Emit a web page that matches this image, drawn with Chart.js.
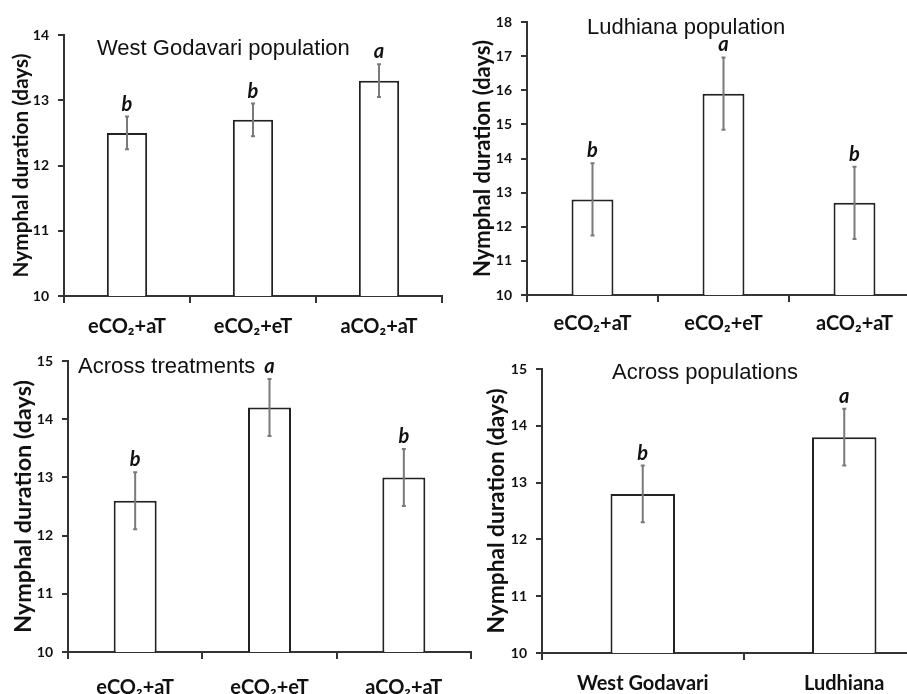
<!DOCTYPE html>
<html><head><meta charset="utf-8">
<script src="https://cdn.jsdelivr.net/npm/chart.js@4.4.1/dist/chart.umd.min.js"></script>
<style>
html,body{margin:0;padding:0;background:#fff;overflow:hidden;}
#wrap{position:relative;width:907px;height:694px;overflow:hidden;background:#fff;}
canvas{position:absolute;}
</style></head><body>
<div id="wrap">
<canvas id="c1" width="450" height="340" style="left:0;top:0"></canvas>
<canvas id="c2" width="470" height="340" style="left:450px;top:0"></canvas>
<canvas id="c3" width="480" height="354" style="left:0;top:340px"></canvas>
<canvas id="c4" width="495" height="354" style="left:450px;top:340px"></canvas>
</div>
<script>
// ---- data ----
const treatments = ['eCO\u2082+aT', 'eCO\u2082+eT', 'aCO\u2082+aT'];
const populations = ['West Godavari', 'Ludhiana'];

const westGodavariMeans = [12.5, 12.7, 13.3];
const westGodavariErrors = [0.25, 0.25, 0.25];
const westGodavariLetters = ['b', 'b', 'a'];

const ludhianaMeans = [12.8, 15.9, 12.7];
const ludhianaErrors = [1.06, 1.06, 1.06];
const ludhianaLetters = ['b', 'a', 'b'];

const acrossTreatmentMeans = [12.6, 14.2, 13.0];
const acrossTreatmentErrors = [0.49, 0.49, 0.49];
const acrossTreatmentLetters = ['b', 'a', 'b'];

const acrossPopulationMeans = [12.8, 13.8];
const acrossPopulationErrors = [0.5, 0.5];
const acrossPopulationLetters = ['b', 'a'];

const yMin = 10;
const yMaxWestGodavari = 14;
const yMaxLudhiana = 18;
const yMaxAcrossTreatments = 15;
const yMaxAcrossPopulations = 15;
const yStep = 1;

const yAxisTitle = 'Nymphal duration (days)';

// ---- helpers ----
const AX = '#333333';
const mctx = document.createElement('canvas').getContext('2d');
function fitSize(text, font, target) {
  mctx.font = font.replace('SIZE', '20px');
  return 20 * target / mctx.measureText(text).width;
}

const annot = {
  id: 'annot',
  afterDatasetsDraw(chart, args, o) {
    const ctx = chart.ctx;
    const meta = chart.getDatasetMeta(0);
    const ys = chart.scales.y;
    ctx.save();
    ctx.strokeStyle = '#7a7a7a';
    ctx.lineWidth = 2;
    o.means.forEach((v, i) => {
      const x = meta.data[i].x;
      const yt = ys.getPixelForValue(v + o.errors[i]);
      const yb = ys.getPixelForValue(v - o.errors[i]);
      ctx.beginPath();
      ctx.moveTo(x, yt); ctx.lineTo(x, yb);
      ctx.moveTo(x - 2, yt); ctx.lineTo(x + 2, yt);
      ctx.moveTo(x - 2, yb); ctx.lineTo(x + 2, yb);
      ctx.stroke();
      ctx.fillStyle = '#111';
      ctx.font = 'italic bold 20px Lato';
      ctx.textAlign = 'center';
      ctx.textBaseline = 'alphabetic';
      ctx.fillText(o.letters[i], x, yt - 6);
    });
    ctx.fillStyle = '#111';
    ctx.font = '22px "Liberation Sans"';
    ctx.textAlign = 'left';
    ctx.textBaseline = 'alphabetic';
    ctx.fillText(o.title, o.titleX, o.titleY);
    ctx.restore();
  }
};

function makePanel(p) {
  const ytFont = 'bold SIZE Lato';
  const ytSize = fitSize(yAxisTitle, ytFont, p.yTitleLength);
  const padL = p.yTitleCenter - ytSize * 1.2 / 2;
  return new Chart(document.getElementById(p.id), {
    type: 'bar',
    data: {
      labels: p.labels,
      datasets: [{
        data: p.means,
        backgroundColor: '#ffffff',
        borderColor: '#222222',
        borderWidth: 2,
        barPercentage: 0.32,
        categoryPercentage: 1
      }]
    },
    options: {
      responsive: false,
      animation: false,
      events: [],
      layout: { padding: { left: padL, top: p.chartTop, right: p.padRight, bottom: 0 } },
      plugins: {
        legend: { display: false },
        tooltip: { enabled: false },
        annot: { means: p.means, errors: p.errors, letters: p.letters, title: p.title, titleX: p.titleX, titleY: p.titleY }
      },
      scales: {
        x: {
          grid: { display: true, drawOnChartArea: false, drawTicks: true, tickLength: 7, color: AX, lineWidth: 2, offset: true },
          border: { display: true, color: AX, width: 2 },
          ticks: { color: '#111', font: { family: 'Lato', weight: 'bold', size: p.catSize }, padding: p.catPad, maxRotation: 0, autoSkip: false },
          afterFit: s => { s.height = p.xHeight; }
        },
        y: {
          min: yMin, max: p.yMax,
          ticks: { stepSize: yStep, color: '#111', font: { family: 'Lato', weight: 'bold', size: 14 }, padding: 9 },
          grid: { drawOnChartArea: false, tickLength: 6, color: AX, lineWidth: 2 },
          border: { color: AX, width: 2 },
          title: { display: true, text: yAxisTitle, color: '#111', padding: 0,
                   font: { family: 'Lato', weight: 'bold', size: ytSize, lineHeight: 1.2 } },
          afterFit: s => { s.width = p.chartLeft - padL; }
        }
      }
    },
    plugins: [annot]
  });
}

makePanel({ id: 'c1', labels: treatments, means: westGodavariMeans, errors: westGodavariErrors, letters: westGodavariLetters,
  yMax: yMaxWestGodavari, title: 'West Godavari population', titleX: 97, titleY: 55,
  yTitleCenter: 21, yTitleLength: 224, chartLeft: 64, chartTop: 35, padRight: 8, xHeight: 44, catSize: 20, catPad: 12 });

makePanel({ id: 'c2', labels: treatments, means: ludhianaMeans, errors: ludhianaErrors, letters: ludhianaLetters,
  yMax: yMaxLudhiana, title: 'Ludhiana population', titleX: 137, titleY: 34,
  yTitleCenter: 33, yTitleLength: 237, chartLeft: 77, chartTop: 22, padRight: 0, xHeight: 45, catSize: 20, catPad: 10 });

makePanel({ id: 'c3', labels: treatments, means: acrossTreatmentMeans, errors: acrossTreatmentErrors, letters: acrossTreatmentLetters,
  yMax: yMaxAcrossTreatments, title: 'Across treatments', titleX: 78, titleY: 33,
  yTitleCenter: 23, yTitleLength: 253, chartLeft: 68, chartTop: 21, padRight: 9, xHeight: 42, catSize: 20, catPad: 17 });

makePanel({ id: 'c4', labels: populations, means: acrossPopulationMeans, errors: acrossPopulationErrors, letters: acrossPopulationLetters,
  yMax: yMaxAcrossPopulations, title: 'Across populations', titleX: 162, titleY: 39,
  yTitleCenter: 47, yTitleLength: 245, chartLeft: 92, chartTop: 29, padRight: 0, xHeight: 41, catSize: 20, catPad: 12 });
</script>
</body></html>
